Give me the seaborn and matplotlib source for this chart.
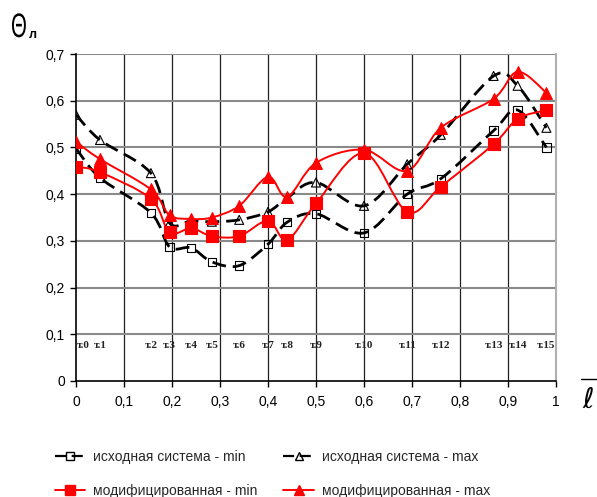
import numpy as np
import pandas as pd
import matplotlib
matplotlib.use("Agg")
import matplotlib.pyplot as plt
from matplotlib.path import Path
from matplotlib.patches import PathPatch
from matplotlib.lines import Line2D
from matplotlib.textpath import TextPath
from matplotlib.font_manager import FontProperties
from matplotlib.transforms import Affine2D, IdentityTransform
import seaborn as sns

# ---- data ----
points = ["т.0", "т.1", "т.2", "т.3", "т.4", "т.5", "т.6", "т.7",
          "т.8", "т.9", "т.10", "т.11", "т.12", "т.13", "т.14", "т.15"]
l_bar = [0.0, 0.05, 0.156, 0.195, 0.24, 0.283, 0.34, 0.40,
         0.44, 0.50, 0.60, 0.69, 0.76, 0.87, 0.92, 0.98]
orig_min = [0.498, 0.435, 0.36, 0.287, 0.285, 0.255, 0.247, 0.293,
            0.34, 0.358, 0.317, 0.40, 0.433, 0.536, 0.58, 0.50]
orig_max = [0.57, 0.516, 0.445, 0.338, 0.343, 0.341, 0.345, 0.362,
            0.392, 0.425, 0.375, 0.464, 0.527, 0.653, 0.632, 0.542]
mod_min = [0.459, 0.447, 0.39, 0.318, 0.327, 0.31, 0.31, 0.343,
           0.302, 0.38, 0.488, 0.362, 0.416, 0.507, 0.561, 0.58]
mod_max = [0.512, 0.475, 0.41, 0.355, 0.347, 0.35, 0.375, 0.437,
           0.394, 0.467, 0.495, 0.45, 0.542, 0.604, 0.662, 0.617]
x_ticks = [0, 0.1, 0.2, 0.3, 0.4, 0.5, 0.6, 0.7, 0.8, 0.9, 1.0]
x_tick_labels = ["0", "0,1", "0,2", "0,3", "0,4", "0,5", "0,6", "0,7", "0,8", "0,9", "1"]
y_ticks = [0, 0.1, 0.2, 0.3, 0.4, 0.5, 0.6, 0.7]
y_tick_labels = ["0", "0,1", "0,2", "0,3", "0,4", "0,5", "0,6", "0,7"]
labels = ["исходная система - min", "исходная система - max",
          "модифицированная - min", "модифицированная - max"]

sns.set_theme(style="white")
plt.rcParams["font.family"] = ["Liberation Sans", "DejaVu Sans"]

fig = plt.figure(figsize=(5.97, 4.97), dpi=100)
ax = fig.add_axes([76 / 597, 1 - 381 / 497, 480 / 597, 327 / 497])


def smooth_path(xs, ys, t=1 / 6):
    pts = np.column_stack([xs, ys])
    n = len(pts)
    verts = [pts[0]]
    codes = [Path.MOVETO]
    for i in range(n - 1):
        p0 = pts[i - 1] if i > 0 else pts[i]
        p1 = pts[i]
        p2 = pts[i + 1]
        p3 = pts[i + 2] if i + 2 < n else pts[i + 1]
        c1 = p1 + (p2 - p0) * t
        c2 = p2 - (p3 - p1) * t
        verts += [c1, c2, p2]
        codes += [Path.CURVE4] * 3
    return Path(verts, codes)


DASH = (0, (5, 2.5))
series = [
    (orig_min, "black", DASH, 2.0, "s", "none", 6),
    (orig_max, "black", DASH, 2.0, "^", "none", 6.5),
    (mod_min, "#ff0000", "-", 1.4, "s", "#ff0000", 8),
    (mod_max, "#ff0000", "-", 1.4, "^", "#ff0000", 8.5),
]

for vals, col, ls, lw, mk, fc, ms in series:
    patch = PathPatch(smooth_path(l_bar, vals), facecolor="none", edgecolor=col,
                      linestyle=ls, linewidth=lw, zorder=3)
    ax.add_patch(patch)
    df = pd.DataFrame({"x": l_bar, "y": vals})
    sns.scatterplot(data=df, x="x", y="y", ax=ax, marker=mk, s=ms ** 2,
                    facecolor=fc, edgecolor=col,
                    linewidth=0.8, zorder=4, legend=False)

# point labels
for i, (lab, xv) in enumerate(zip(points, l_bar)):
    ax.text(xv + (0.002 if i == 0 else 0), 0.077, lab, ha="left" if i == 0 else "center",
            va="center", fontsize=8, family="Liberation Serif", fontweight="bold",
            color="#222222", zorder=5)

ax.set_xlim(0, 1)
ax.set_ylim(0, 0.7)
ax.set_xticks(x_ticks)
ax.set_xticklabels(x_tick_labels, fontsize=10)
ax.set_yticks(y_ticks)
ax.set_yticklabels(y_tick_labels, fontsize=10)
ax.set_xlabel("")
ax.set_ylabel("")
ax.tick_params(axis="both", which="both", direction="out", length=4, width=1,
               color="black", pad=4, bottom=True, left=True, labelcolor="black")
ax.tick_params(axis="x", pad=6)

for xv in x_ticks[1:-1]:
    ax.axvline(xv, color="#202020", linewidth=0.9, zorder=1)
for yv in y_ticks[1:]:
    ax.axhline(yv, color="#8a8a8a", linewidth=1.5, zorder=1)

for s in ["left", "bottom"]:
    ax.spines[s].set_color("black")
    ax.spines[s].set_linewidth(1.2)
ax.spines["right"].set_color("#b0b0b0")
ax.spines["right"].set_linewidth(1.5)
ax.spines["top"].set_visible(False)

# y-axis title: a tall, narrow Θ with subscript л
theta = TextPath((0, 0), "Θ", size=34, prop=FontProperties(family="Liberation Sans"))
theta_tf = Affine2D().scale(0.6, 1.0).translate(11, 497 - 37)
fig.add_artist(PathPatch(theta_tf.transform_path(theta), facecolor="black",
                         edgecolor="none", transform=IdentityTransform()))
fig.text(28.5 / 597, 1 - 38 / 497, "л", fontsize=9, fontweight="bold", color="black")

# x-axis title: l with overline
fig.text(582 / 597, 1 - 408 / 497, "ℓ", fontsize=20, family="DejaVu Sans",
         color="black")
fig.add_artist(Line2D([581 / 597, 597 / 597], [1 - 379 / 497, 1 - 379 / 497],
                      color="black", linewidth=1.0, transform=fig.transFigure))

# legend (column-major order so rows read: original, modified)
h_omin = Line2D([], [], color="black", linestyle=DASH, linewidth=1.6, marker="s",
                markerfacecolor="none", markeredgecolor="black", markersize=6)
h_omax = Line2D([], [], color="black", linestyle=DASH, linewidth=1.6, marker="^",
                markerfacecolor="none", markeredgecolor="black", markersize=6)
h_mmin = Line2D([], [], color="#ff0000", linestyle="-", linewidth=1.4, marker="s",
                markerfacecolor="#ff0000", markeredgecolor="#ff0000", markersize=7)
h_mmax = Line2D([], [], color="#ff0000", linestyle="-", linewidth=1.4, marker="^",
                markerfacecolor="#ff0000", markeredgecolor="#ff0000", markersize=7)
fig.legend([h_omin, h_mmin, h_omax, h_mmax],
           [labels[0], labels[2], labels[1], labels[3]],
           loc="upper left", bbox_to_anchor=(42 / 597, 1 - 437 / 497),
           ncol=2, frameon=False, fontsize=10, handlelength=2.2, handletextpad=0.55,
           columnspacing=1.9, labelspacing=1.45)

fig.savefig("out.png", dpi=100)
